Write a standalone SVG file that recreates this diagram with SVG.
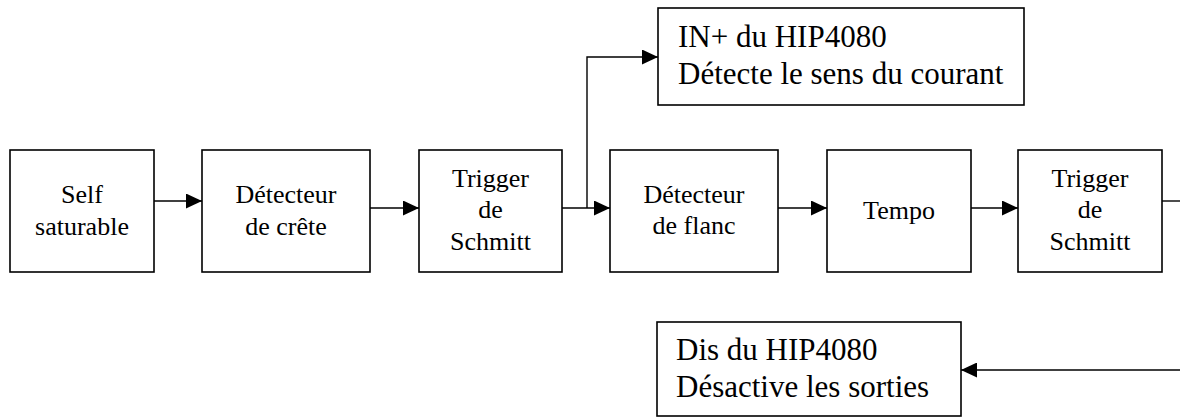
<svg xmlns="http://www.w3.org/2000/svg" width="1180" height="418" viewBox="0 0 1180 418">
<style>
.box{fill:#fff;stroke:#000;stroke-width:1.6}
.t{font-family:"Liberation Serif","Times New Roman",serif;font-size:26px;fill:#000;text-anchor:middle}
.tl{font-family:"Liberation Serif","Times New Roman",serif;font-size:31px;fill:#000}
.c{fill:none;stroke:#000;stroke-width:1.4}
</style>
<defs>
<marker id="ah" markerUnits="userSpaceOnUse" markerWidth="16" markerHeight="15" refX="16" refY="7.5" orient="auto">
<path d="M0,0 L16,7.5 L0,15 Z" fill="#000"/>
</marker>
</defs>
<rect width="1180" height="418" fill="#fff"/>
<g id="connectors">
<path class="c" d="M154,201 H202" marker-end="url(#ah)"/>
<path class="c" d="M370,208 H419" marker-end="url(#ah)"/>
<path class="c" d="M562,208 H610" marker-end="url(#ah)"/>
<path class="c" d="M587,208 V57 H658" marker-end="url(#ah)"/>
<path class="c" d="M778,208 H827" marker-end="url(#ah)"/>
<path class="c" d="M971,208 H1018" marker-end="url(#ah)"/>
<path class="c" d="M1162,201 H1180"/>
<path class="c" d="M1180,370 H961" marker-end="url(#ah)"/>
</g>
<g id="self">
<rect class="box" x="10" y="150" width="144" height="122"/>
<text class="t" x="82" y="203">Self</text>
<text class="t" x="82" y="235">saturable</text>
</g>
<g id="crete">
<rect class="box" x="202" y="150" width="168" height="122"/>
<text class="t" x="286" y="203">Détecteur</text>
<text class="t" x="286" y="235">de crête</text>
</g>
<g id="trigger1">
<rect class="box" x="419" y="150" width="143" height="122"/>
<text class="t" x="490.5" y="187">Trigger</text>
<text class="t" x="490.5" y="218">de</text>
<text class="t" x="490.5" y="250">Schmitt</text>
</g>
<g id="flanc">
<rect class="box" x="610" y="150" width="168" height="122"/>
<text class="t" x="694" y="203">Détecteur</text>
<text class="t" x="694" y="234">de flanc</text>
</g>
<g id="tempo">
<rect class="box" x="827" y="150" width="144" height="122"/>
<text class="t" x="899" y="219">Tempo</text>
</g>
<g id="trigger2">
<rect class="box" x="1018" y="150" width="144" height="122"/>
<text class="t" x="1090" y="187">Trigger</text>
<text class="t" x="1090" y="218">de</text>
<text class="t" x="1090" y="250">Schmitt</text>
</g>
<g id="inplus">
<rect class="box" x="658" y="8" width="366" height="97"/>
<text class="tl" x="678" y="47">IN+ du HIP4080</text>
<text class="tl" x="678" y="84">Détecte le sens du courant</text>
</g>
<g id="dis">
<rect class="box" x="657" y="322" width="304" height="94"/>
<text class="tl" x="676" y="360">Dis du HIP4080</text>
<text class="tl" x="676" y="397">Désactive les sorties</text>
</g>
</svg>
